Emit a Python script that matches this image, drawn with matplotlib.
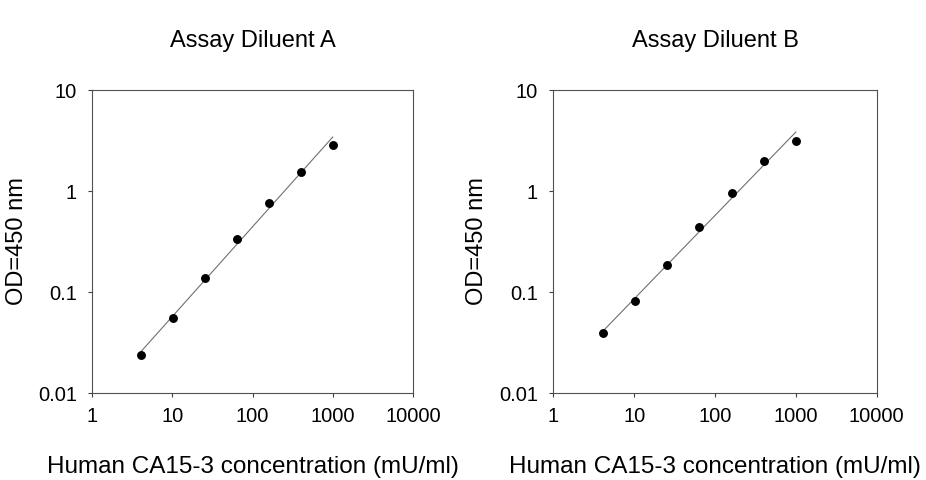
import numpy as np
import matplotlib as mpl
mpl.use('Agg')
from matplotlib import pyplot as plt

mpl.rcParams['font.family'] = ['Liberation Sans', 'DejaVu Sans']

# 2.5-fold dilution series of the standard
conc = [4.096, 10.24, 25.6, 64, 160, 400, 1000]
od_a = [0.0236, 0.0553, 0.138, 0.337, 0.767, 1.55, 2.88]
od_b = [0.039, 0.081, 0.187, 0.44, 0.948, 2.00, 3.13]
titles = ['Assay Diluent A', 'Assay Diluent B']
xticks = [1, 10, 100, 1000, 10000]
xticklabels = ['1', '10', '100', '1000', '10000']
yticks = [0.01, 0.1, 1, 10]
yticklabels = ['0.01', '0.1', '1', '10']

fig = plt.figure(figsize=(9.26, 4.8), dpi=100)
rects = [[0.0994, 0.181, 0.3466, 0.6315], [0.5975, 0.181, 0.3493, 0.6315]]

for rect, od, title in zip(rects, [od_a, od_b], titles):
	ax = fig.add_axes(rect)
	x = np.array(conc)
	y = np.array(od)
	# log-log linear fit
	p = np.polyfit(np.log10(x), np.log10(y), 1)
	xf = np.array([x.min(), x.max()])
	ax.plot(xf, 10**np.polyval(p, np.log10(xf)), color='#707070', lw=0.8)
	ax.plot(x, y, 'o', color='black', ms=5.4)

	ax.set_xscale('log')
	ax.set_yscale('log')
	ax.set_xlim(1, 10000)
	ax.set_ylim(0.01, 10)
	ax.set_xticks(xticks)
	ax.set_xticklabels(xticklabels)
	ax.set_yticks(yticks)
	ax.set_yticklabels(yticklabels)
	ax.minorticks_off()
	ax.tick_params(direction='out', length=3, width=0.8, color='#404040', labelsize=14.5)
	ax.tick_params(axis='x', pad=7)
	ax.tick_params(axis='y', pad=8)
	for sp in ax.spines.values():
		sp.set_color('#505050')
		sp.set_linewidth(0.8)
	ax.text(0.5, 1.162, title, transform=ax.transAxes, ha='center', va='center', fontsize=17)
	ax.set_xlabel('Human CA15-3 concentration (mU/ml)', fontsize=17.5)
	ax.xaxis.set_label_coords(0.5, -0.243)
	ax.xaxis.label.set_verticalalignment('center')
	ax.set_ylabel('OD=450 nm', fontsize=17)
	ax.yaxis.set_label_coords(-0.235, 0.5)
	ax.yaxis.label.set_verticalalignment('center')

fig.savefig('out.png', dpi=100, facecolor='white')
